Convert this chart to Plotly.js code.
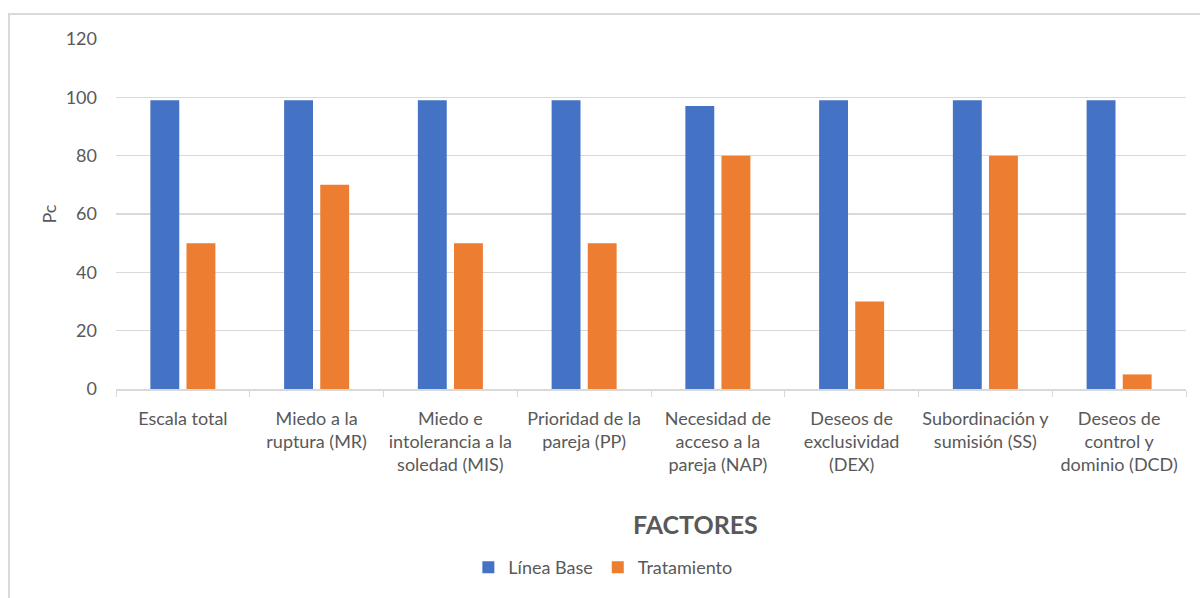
<!DOCTYPE html>
<html>
<head>
<meta charset="utf-8">
<script src="https://cdn.plot.ly/plotly-3.0.1.min.js"></script>
<style>
  html, body { margin: 0; padding: 0; background: #ffffff; overflow: hidden; }
  #frame { position: absolute; left: 8px; top: 13px; width: 1210px; height: 610px;
           border: 2px solid #d9d9d9; box-sizing: border-box; }
  #chart { position: absolute; left: 0; top: 0; width: 1200px; height: 598px; }
</style>
</head>
<body>
<div id="frame"></div>
<div id="chart"></div>
<script>
// Factor labels (two/three-line tick text)
const categories = [
  "Escala total",
  "Miedo a la<br>ruptura (MR)",
  "Miedo e<br>intolerancia a la<br>soledad (MIS)",
  "Prioridad de la<br>pareja (PP)",
  "Necesidad de<br>acceso a la<br>pareja (NAP)",
  "Deseos de<br>exclusividad<br>(DEX)",
  "Subordinación y<br>sumisión (SS)",
  "Deseos de<br>control y<br>dominio (DCD)"
];
const lineaBase = [99, 99, 99, 99, 97, 99, 99, 99];
const tratamiento = [50, 70, 50, 50, 80, 30, 80, 5];
const yTicks = [0, 20, 40, 60, 80, 100, 120];

const textColor = "#595959";
const font = "Lato, 'Open Sans', 'DejaVu Sans', sans-serif";

const traces = [
  { type: "bar", name: "Línea Base", x: categories, y: lineaBase,
    marker: { color: "#4472C4" }, hoverinfo: "y" },
  { type: "bar", name: "Tratamiento", x: categories, y: tratamiento,
    marker: { color: "#ED7D31" }, hoverinfo: "y" }
];

const layout = {
  width: 1200, height: 598,
  margin: { l: 116, r: 14, t: 39, b: 206 },
  paper_bgcolor: "rgba(0,0,0,0)", plot_bgcolor: "rgba(0,0,0,0)",
  font: { family: font, color: textColor, size: 18 },
  barmode: "group", bargap: 0.46, bargroupgap: 0.2,
  showlegend: true,
  legend: { orientation: "h", x: 0.455, xanchor: "center", y: -0.51, yanchor: "middle",
            font: { size: 18, color: textColor }, itemwidth: 30, traceorder: "normal" },
  xaxis: {
    type: "category", tickson: "boundaries", ticks: "outside", ticklen: 6,
    tickcolor: "#d9d9d9", showline: true, linecolor: "#d9d9d9", linewidth: 2,
    showgrid: false, tickangle: 0, ticklabelstandoff: 12,
    tickfont: { size: 18, color: textColor }, automargin: false
  },
  yaxis: {
    range: [0, 120], tickvals: yTicks, showgrid: true, gridcolor: "#d9d9d9", gridwidth: 1.5,
    zeroline: false, showline: false, ticks: "", ticklabelstandoff: 18,
    tickfont: { size: 18, color: textColor },
    title: { text: "Pc", standoff: 4, font: { size: 18, color: textColor } },
    automargin: false
  },
  annotations: [
    { text: "<b>FACTORES</b>", xref: "paper", yref: "paper", x: 0.542, y: -0.385,
      xanchor: "center", yanchor: "middle", showarrow: false,
      font: { size: 25, color: textColor, family: font } }
  ]
};

Plotly.newPlot("chart", traces, layout, { displayModeBar: false, staticPlot: true });
</script>
</body>
</html>
